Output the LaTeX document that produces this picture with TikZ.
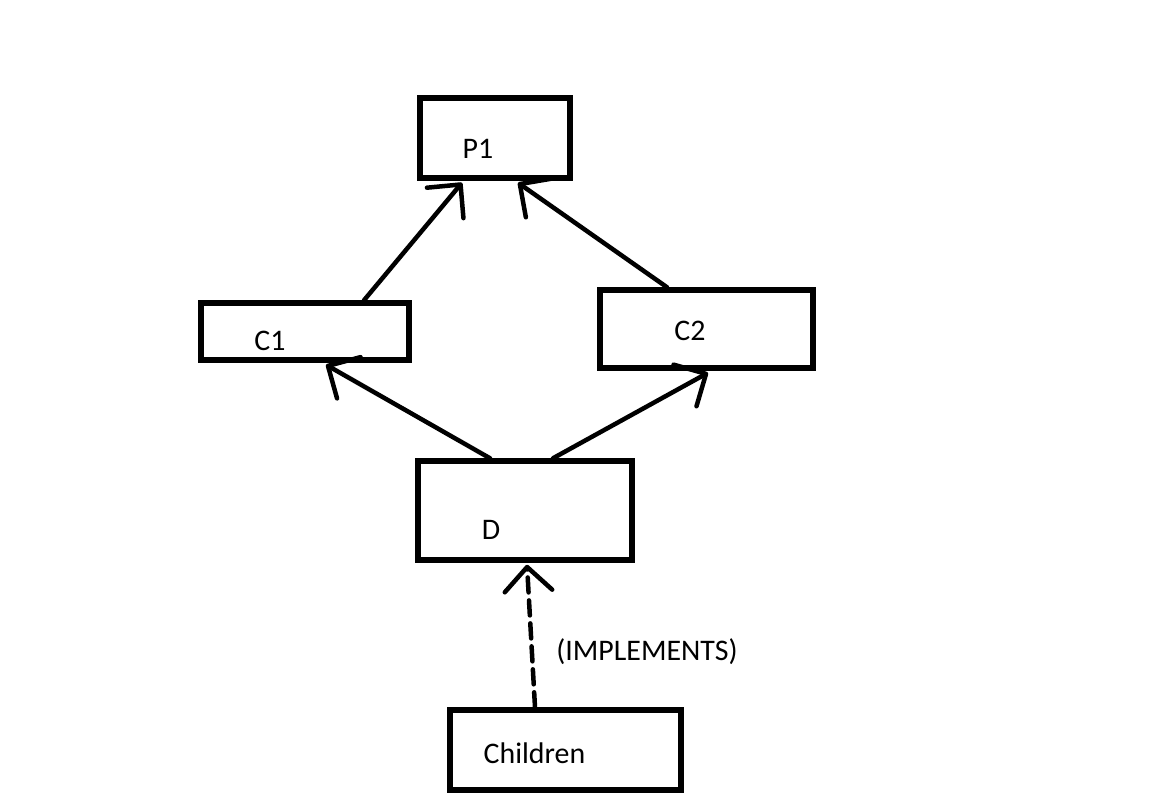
\documentclass[tikz,border=0pt]{standalone}
\usepackage{fontspec}
\setmainfont{Carlito}
\usetikzlibrary{arrows.meta}

\begin{document}
\begin{tikzpicture}[
    box/.style={draw, line width=0.11cm, inner sep=0pt},
    lbl/.style={font=\fontsize{17}{20}\selectfont, inner sep=0pt},
    link/.style={line width=0.09cm, line cap=round,
      -{Straight Barb[length=0.48cm, width=0.95cm, line width=0.09cm, round]}}
  ]

  % canvas
  \useasboundingbox (0, 0) rectangle (23.04, -16.18);

  % boxes
  \node[box, minimum width=3.00cm, minimum height=1.60cm] (p1) at (9.90, -2.76) {};
  \node[box, minimum width=4.16cm, minimum height=1.14cm] (c1) at (6.10, -6.63) {};
  \node[box, minimum width=4.26cm, minimum height=1.56cm] (c2) at (14.13, -6.58) {};
  \node[box, minimum width=4.28cm, minimum height=1.98cm] (d) at (10.50, -10.21) {};
  \node[box, minimum width=4.62cm, minimum height=1.60cm] (kids) at (11.31, -15.00) {};

  % box texts
  \node[lbl] (p1txt) at ([shift={(-0.34, -0.22)}]p1.center) {P1};
  \node[lbl] (c1txt) at ([shift={(-0.70, -0.19)}]c1.center) {C1};
  \node[lbl] (c2txt) at ([shift={(-0.33, -0.04)}]c2.center) {C2};
  \node[lbl] (dtxt) at ([shift={(-0.68, -0.39)}]d.center) {D};
  \node[lbl] (kidstxt) at ([shift={(-0.62, -0.06)}]kids.center) {Children};

  % inheritance arrows
  \draw[link] ([xshift=1.18cm]c1.north) -- ([xshift=-0.66cm, yshift=-0.04cm]p1.south);
  \draw[link] ([xshift=-0.79cm]c2.north) -- ([xshift=0.46cm, yshift=-0.04cm]p1.south);
  \draw[link] ([xshift=-0.70cm]d.north) -- ([xshift=0.42cm, yshift=-0.04cm]c1.south);
  \draw[link] ([xshift=0.56cm]d.north) -- ([xshift=0.03cm, yshift=-0.04cm]c2.south);

  % implements arrow
  \draw[link, dash pattern=on 0.3cm off 0.16cm] ([xshift=-0.61cm]kids.north) -- ([xshift=0.04cm, yshift=-0.04cm]d.south);
  \node[lbl] (impl) at (12.94, -13.04) {(IMPLEMENTS)};

\end{tikzpicture}
\end{document}
